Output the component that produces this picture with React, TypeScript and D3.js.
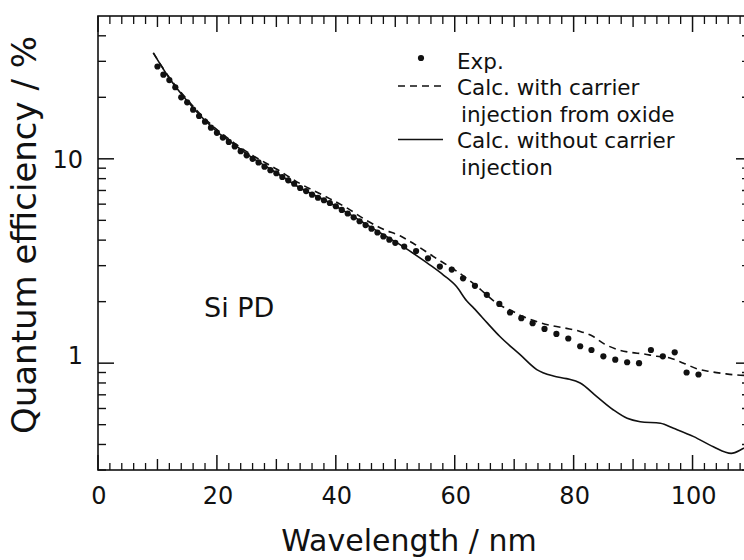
import React from "react";
import * as d3 from "d3";

// ---- data ----
const expX = [10, 11, 12, 13, 14, 15, 16, 17, 18, 19, 20, 21, 22, 23, 24, 25, 26, 27, 28, 29, 30, 31, 32, 33, 34, 35, 36, 37, 38, 39, 40, 41, 42, 43, 44, 45, 46, 47, 48, 49, 50,
  51.5, 53.5, 55.5, 57.5, 59.5, 61.4, 63.4, 65.4, 67.5, 69.3, 71.2, 73.1, 75.1, 77.1, 79.1, 81.1, 83, 85, 87, 89, 91, 93, 95, 97, 99, 101];
const expY = [28.3, 25.8, 24.3, 22.4, 20.0, 18.9, 17.4, 16.2, 15.2, 14.2, 13.4, 12.7, 12.1, 11.5, 10.9, 10.4, 10.0, 9.6, 9.15, 8.8, 8.5, 8.15, 7.85, 7.55, 7.2, 6.95, 6.68, 6.45, 6.27, 6.08, 5.86, 5.62, 5.40, 5.17, 4.95, 4.74, 4.55, 4.36, 4.17, 4.02, 3.88,
  3.72, 3.54, 3.26, 2.97, 2.87, 2.60, 2.39, 2.16, 1.95, 1.77, 1.66, 1.57, 1.47, 1.39, 1.32, 1.21, 1.16, 1.08, 1.04, 1.01, 1.00, 1.16, 1.08, 1.13, 0.90, 0.88];

const withInjX = [9.3, 12, 15, 18, 20, 23, 26, 30, 34, 38, 42, 45, 48, 50.8, 53, 57.3, 59.7, 63.4, 67.6, 69.3, 71.5, 74.3, 76.6, 78.8, 81.1, 83.3, 85, 87.2, 89.5, 91.7, 94, 96.2, 98.5, 100.7, 102.9, 105.2, 107.4, 110];
const withInjY = [33, 25, 19.5, 15.7, 13.9, 11.9, 10.4, 8.92, 7.56, 6.6, 5.72, 5.03, 4.52, 4.2, 3.86, 3.2, 2.9, 2.42, 1.92, 1.82, 1.69, 1.58, 1.52, 1.48, 1.43, 1.35, 1.25, 1.17, 1.13, 1.11, 1.08, 1.06, 1.0, 0.94, 0.91, 0.89, 0.875, 0.87];

const noInjX = [9.3, 12, 15, 18, 20, 23, 26, 30, 34, 38, 42, 45, 48, 50.8, 53, 55.8, 58.1, 60.3, 62, 63.2, 65.5, 67.6, 71, 73.8, 76.6, 78.8, 81.1, 83.9, 86.7, 89, 91.2, 94.6, 96.8, 100.2, 103.5, 106.5, 108.6, 110];
const noInjY = [33, 24.8, 19.2, 15.4, 13.6, 11.7, 10.1, 8.55, 7.2, 6.3, 5.42, 4.8, 4.25, 3.8, 3.45, 3.03, 2.7, 2.37, 2.02, 1.86, 1.57, 1.35, 1.1, 0.93, 0.865, 0.84, 0.80, 0.686, 0.59, 0.537, 0.517, 0.508, 0.48, 0.437, 0.39, 0.362, 0.383, 0.40];

const xTickLabels = [0, 20, 40, 60, 80, 100];
const xMidTicks = [10, 30, 50, 70, 90, 110];
const yMajorTicks = [1, 10];
const yMinorTicks = [0.3, 0.4, 0.5, 0.6, 0.7, 0.8, 0.9, 2, 3, 4, 5, 6, 7, 8, 9, 20, 30, 40];

const legendItems = ["Exp.", "Calc. with carrier", "injection from oxide", "Calc. without carrier", "injection"];

const FONT = "DejaVu Sans";

export default function App() {
  const L = 98, R = 752, T = 16, B = 470;
  const x = d3.scaleLinear().domain([0, 110]).range([L, R]);
  const y = d3.scaleLog().domain([0.3, 50]).range([B, T]);

  const line = d3.line<[number, number]>()
    .x((d) => x(d[0]))
    .y((d) => y(d[1]))
    .curve(d3.curveMonotoneX);

  const withInj = withInjX.map((v, i) => [v, withInjY[i]] as [number, number]);
  const noInj = noInjX.map((v, i) => [v, noInjY[i]] as [number, number]);

  const xMinor = d3.range(0, 111, 2).filter((v) => v % 10 !== 0);
  const stroke = "#111";

  return (
    <div style={{ position: "absolute", left: 0, top: 0 }}>
      <svg width={744} height={560} style={{ display: "block", background: "#fff" }}>
        <defs>
          <clipPath id="plot">
            <rect x={L} y={T} width={R - L} height={B - T} />
          </clipPath>
        </defs>
        {/* frame */}
        <rect x={L} y={T} width={R - L} height={B - T} fill="none" stroke={stroke} strokeWidth={1.6} />
        {/* x ticks, bottom and top */}
        {xMinor.map((v) => (
          <g key={"xm" + v}>
            <line x1={x(v)} x2={x(v)} y1={B} y2={B - 7} stroke={stroke} strokeWidth={1.3} />
            <line x1={x(v)} x2={x(v)} y1={T} y2={T + 8} stroke={stroke} strokeWidth={1.3} />
          </g>
        ))}
        {xMidTicks.map((v) => (
          <g key={"xd" + v}>
            <line x1={x(v)} x2={x(v)} y1={B} y2={B - 11} stroke={stroke} strokeWidth={1.4} />
            <line x1={x(v)} x2={x(v)} y1={T} y2={T + 11} stroke={stroke} strokeWidth={1.4} />
          </g>
        ))}
        {xTickLabels.map((v) => (
          <g key={"xM" + v}>
            <line x1={x(v)} x2={x(v)} y1={B} y2={B - 15} stroke={stroke} strokeWidth={1.5} />
            <line x1={x(v)} x2={x(v)} y1={T} y2={T + 16} stroke={stroke} strokeWidth={1.5} />
            <text x={x(v) + 1} y={504} textAnchor="middle" fontFamily={FONT} fontSize={24} fill={stroke}>{v}</text>
          </g>
        ))}
        {/* y ticks, left and right */}
        {yMinorTicks.map((v) => (
          <g key={"ym" + v}>
            <line x1={L} x2={L + 8} y1={y(v)} y2={y(v)} stroke={stroke} strokeWidth={1.4} />
            <line x1={R} x2={R - 10} y1={y(v)} y2={y(v)} stroke={stroke} strokeWidth={1.4} />
          </g>
        ))}
        {yMajorTicks.map((v) => (
          <g key={"yM" + v}>
            <line x1={L} x2={L + 16} y1={y(v)} y2={y(v)} stroke={stroke} strokeWidth={1.5} />
            <line x1={R} x2={R - 16} y1={y(v)} y2={y(v)} stroke={stroke} strokeWidth={1.5} />
            <text x={83} y={y(v) + (v === 1 ? 1 : 9)} textAnchor="end" fontFamily={FONT} fontSize={24} fill={stroke}>{v}</text>
          </g>
        ))}
        {/* curves */}
        <g clipPath="url(#plot)">
          <path d={line(withInj) || ""} fill="none" stroke={stroke} strokeWidth={1.6} strokeDasharray="7,5" />
          <path d={line(noInj) || ""} fill="none" stroke={stroke} strokeWidth={1.6} />
          {expX.map((v, i) => (
            <circle key={"e" + i} cx={x(v)} cy={y(expY[i])} r={3.1} fill={stroke} />
          ))}
        </g>
        {/* legend */}
        <circle cx={421} cy={58} r={3.1} fill={stroke} />
        <text x={457} y={68.5} fontFamily={FONT} fontSize={21.5} fill={stroke}>{legendItems[0]}</text>
        <line x1={398} x2={443} y1={86} y2={86} stroke={stroke} strokeWidth={1.6} strokeDasharray="7,5" />
        <text x={457} y={95} fontFamily={FONT} fontSize={21.5} fill={stroke}>{legendItems[1]}</text>
        <text x={461} y={121.5} fontFamily={FONT} fontSize={21.5} fill={stroke}>{legendItems[2]}</text>
        <line x1={398} x2={443} y1={139.5} y2={139.5} stroke={stroke} strokeWidth={1.6} />
        <text x={457} y={148} fontFamily={FONT} fontSize={21.5} fill={stroke}>{legendItems[3]}</text>
        <text x={461} y={174.5} fontFamily={FONT} fontSize={21.5} fill={stroke}>{legendItems[4]}</text>
        {/* annotation */}
        <text x={204} y={317} fontFamily={FONT} fontSize={27} fill={stroke}>Si PD</text>
        {/* axis titles */}
        <text x={409} y={551} textAnchor="middle" fontFamily={FONT} fontSize={30} fill={stroke}>Wavelength / nm</text>
        <text transform="translate(36,235) rotate(-90)" textAnchor="middle" fontFamily={FONT} fontSize={34} fill={stroke}>Quantum efficiency / %</text>
      </svg>
    </div>
  );
}
